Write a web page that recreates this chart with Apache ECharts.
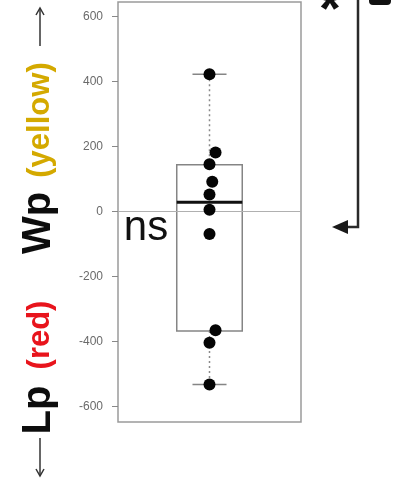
<!DOCTYPE html>
<html>
<head>
<meta charset="utf-8">
<script src="https://cdn.jsdelivr.net/npm/echarts@6/dist/echarts.min.js"></script>
<style>
  html, body { margin: 0; padding: 0; background: #fff; }
  #chart { width: 396px; height: 483px; }
</style>
</head>
<body>
<div id="chart"></div>
<script>
// ---- data ----
const yTickValues = [-600, -400, -200, 0, 200, 400, 600];
const boxStats = [-533, -368, 28, 143, 422];           // lower whisker, Q1, median, Q3, upper whisker
const pointValues = [422, 181, 145, 91, 52, 5, -70, -366, -404, -533];
const pointJitter = [0, 0.033, 0, 0.015, 0, 0, 0, 0.033, 0, 0];
const significance = 'ns';

// ---- styling constants ----
const FONT = '"Liberation Sans", Arial, sans-serif';
const BOX_HALF = 0.179;
const CAP_HALF = 0.093;

const chart = echarts.init(document.getElementById('chart'), null, { renderer: 'canvas' });

function renderBox(params, api) {
  const lw = api.value(0), q1 = api.value(1), med = api.value(2), q3 = api.value(3), hw = api.value(4);
  const pQ3L = api.coord([-BOX_HALF, q3]);
  const pQ1R = api.coord([BOX_HALF, q1]);
  const cTop = api.coord([0, hw]);
  const cQ3 = api.coord([0, q3]);
  const cQ1 = api.coord([0, q1]);
  const cBot = api.coord([0, lw]);
  const capL = api.coord([-CAP_HALF, 0])[0];
  const capR = api.coord([CAP_HALF, 0])[0];
  const medL = api.coord([-BOX_HALF, med]);
  const medR = api.coord([BOX_HALF, med]);
  const grey = '#858585';
  return {
    type: 'group',
    children: [
      { type: 'line', shape: { x1: cTop[0], y1: cTop[1], x2: cQ3[0], y2: cQ3[1] },
        style: { stroke: '#8a8a8a', lineWidth: 1.5, lineDash: [2, 3] } },
      { type: 'line', shape: { x1: cQ1[0], y1: cQ1[1], x2: cBot[0], y2: cBot[1] },
        style: { stroke: '#8a8a8a', lineWidth: 1.5, lineDash: [2, 3] } },
      { type: 'line', shape: { x1: capL, y1: cTop[1], x2: capR, y2: cTop[1] },
        style: { stroke: grey, lineWidth: 1.5 } },
      { type: 'line', shape: { x1: capL, y1: cBot[1], x2: capR, y2: cBot[1] },
        style: { stroke: grey, lineWidth: 1.5 } },
      { type: 'rect', shape: { x: pQ3L[0], y: pQ3L[1], width: pQ1R[0] - pQ3L[0], height: pQ1R[1] - pQ3L[1] },
        style: { fill: 'rgba(255,255,255,0)', stroke: grey, lineWidth: 1.5 } },
      { type: 'line', shape: { x1: medL[0], y1: medL[1], x2: medR[0], y2: medR[1] },
        style: { stroke: '#111', lineWidth: 3 } }
    ]
  };
}

const option = {
  backgroundColor: '#ffffff',
  animation: false,
  grid: { left: 118, right: 95, top: 2, bottom: 61, show: true, borderColor: '#9a9a9a', borderWidth: 1.5, backgroundColor: 'transparent' },
  xAxis: { type: 'value', min: -0.5, max: 0.5, show: false, axisLine: { onZero: false } },
  yAxis: {
    type: 'value', min: -648, max: 644,
    axisLine: { show: false, onZero: false },
    splitLine: { show: false },
    axisTick: { show: true, customValues: yTickValues, length: 6, lineStyle: { color: '#888', width: 1 } },
    axisLabel: { show: true, customValues: yTickValues, fontSize: 12, color: '#6a6a6a', fontFamily: FONT, margin: 15 }
  },
  series: [
    {
      type: 'custom',
      renderItem: renderBox,
      data: [boxStats],
      encode: { y: [0, 1, 2, 3, 4] },
      z: 2,
      markLine: {
        silent: true, symbol: 'none', label: { show: false },
        lineStyle: { color: '#b0b0b0', width: 1, type: 'solid' },
        data: [{ yAxis: 0 }]
      }
    },
    {
      type: 'scatter',
      data: pointValues.map((v, i) => [pointJitter[i], v]),
      symbol: 'circle',
      symbolSize: 12,
      itemStyle: { color: '#050505', opacity: 1 },
      z: 5
    }
  ],
  graphic: [
    // significance label
    { type: 'text', x: 146, y: 228, style: { text: significance, font: '42px ' + FONT, fill: '#111', align: 'center', verticalAlign: 'middle' } },
    // rotated y-axis title pieces
    { type: 'text', x: 39, y: 223, rotation: Math.PI / 2, style: { text: 'Wp', font: 'bold 40px ' + FONT, fill: '#0d0d0d', align: 'center', verticalAlign: 'middle' } },
    { type: 'text', x: 40, y: 120, rotation: Math.PI / 2, style: { text: '(yellow)', font: 'bold 31px ' + FONT, fill: '#d4a900', align: 'center', verticalAlign: 'middle' } },
    { type: 'text', x: 40, y: 335, rotation: Math.PI / 2, style: { text: '(red)', font: 'bold 31px ' + FONT, fill: '#e8141c', align: 'center', verticalAlign: 'middle' } },
    { type: 'text', x: 39, y: 410, rotation: Math.PI / 2, style: { text: 'Lp', font: 'bold 40px ' + FONT, fill: '#0d0d0d', align: 'center', verticalAlign: 'middle' } },
    // title arrows
    { type: 'polyline', shape: { points: [[40, 46], [40, 8]] }, style: { stroke: '#333', lineWidth: 1.5, fill: null } },
    { type: 'polyline', shape: { points: [[36, 15], [40, 8], [44, 15]] }, style: { stroke: '#333', lineWidth: 1.5, fill: null } },
    { type: 'polyline', shape: { points: [[40, 438], [40, 476]] }, style: { stroke: '#333', lineWidth: 1.5, fill: null } },
    { type: 'polyline', shape: { points: [[36, 469], [40, 476], [44, 469]] }, style: { stroke: '#333', lineWidth: 1.5, fill: null } },
    // comparison bracket on the right
    { type: 'polyline', shape: { points: [[358, 0], [358, 227], [346, 227]] }, style: { stroke: '#2a2a2a', lineWidth: 2.5, fill: null } },
    { type: 'polygon', shape: { points: [[332, 227], [348, 220], [348, 234]] }, style: { fill: '#1a1a1a' } },
    { type: 'text', x: 330, y: 40, style: { text: '*', font: 'bold 56px ' + FONT, fill: '#111', align: 'center', verticalAlign: 'bottom' } },
    { type: 'rect', shape: { x: 369, y: -4, width: 22, height: 9, r: 4 }, style: { fill: '#111' } }
  ]
};
chart.setOption(option);
</script>
</body>
</html>
